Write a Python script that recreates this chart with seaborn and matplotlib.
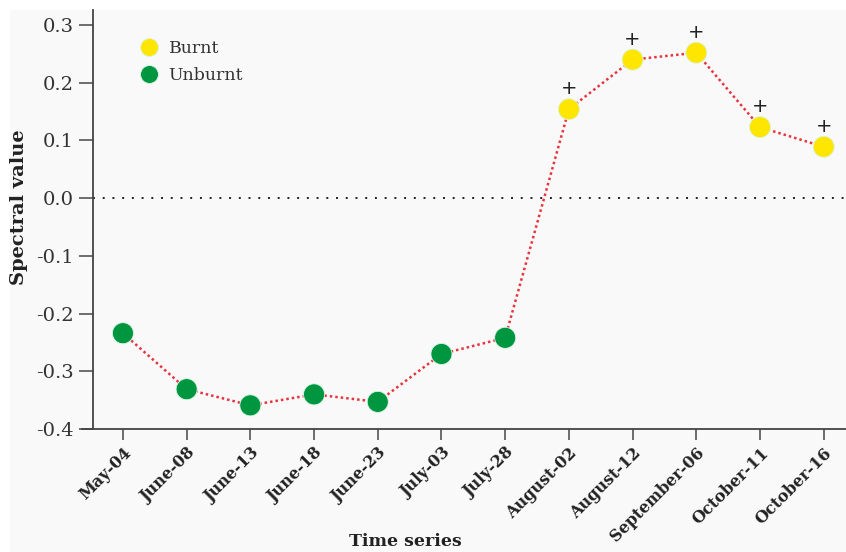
import matplotlib
matplotlib.use("Agg")
import matplotlib.pyplot as plt
from matplotlib.patches import Rectangle
import seaborn as sns
import pandas as pd

dates = ["May-04", "June-08", "June-13", "June-18", "June-23", "July-03",
         "July-28", "August-02", "August-12", "September-06", "October-11",
         "October-16"]
values = [-0.234, -0.331, -0.359, -0.340, -0.353, -0.270,
          -0.242, 0.154, 0.240, 0.252, 0.123, 0.089]
status = ["Unburnt"] * 7 + ["Burnt"] * 5
yticks = [-0.4, -0.3, -0.2, -0.1, 0.0, 0.1, 0.2, 0.3]

df = pd.DataFrame({"pos": range(len(dates)), "date": dates,
                   "value": values, "status": status})

sns.set_theme(style="ticks")
plt.rcParams["font.family"] = ["DejaVu Serif", "Liberation Serif"]

fig = plt.figure(figsize=(8.46, 5.52), dpi=100, facecolor="white")
fig.add_artist(Rectangle((10 / 846, 0), 1, 1 - 10 / 552,
                         transform=fig.transFigure, facecolor="#f9f9f9",
                         edgecolor="none", zorder=-10))
ax = fig.add_axes([93 / 846, 1 - 429 / 552, 1 - 93 / 846, (429 - 10) / 552])
ax.set_facecolor("none")

ax.axhline(0, color="#222222", linestyle=(0, (1, 4)), linewidth=1.4, zorder=1)

sns.lineplot(data=df, x="pos", y="value", ax=ax, color="#e8323c",
             linestyle=(0, (1, 1.2)), linewidth=1.8, zorder=2)
sns.scatterplot(data=df, x="pos", y="value", hue="status",
                hue_order=["Burnt", "Unburnt"],
                palette={"Burnt": "#ffe600", "Unburnt": "#009640"},
                s=230, edgecolor="#d8f5e8", linewidth=0.6, ax=ax, zorder=3)

for _, row in df[df["status"] == "Burnt"].iterrows():
    ax.annotate("+", (row["pos"], row["value"]), xytext=(0, 8),
                textcoords="offset points", ha="center", va="bottom",
                fontsize=14, color="#222222", family="DejaVu Sans")

ax.set_xlim(-0.47, 11.35)
ax.set_ylim(-0.4, 0.326)
ax.set_yticks(yticks)
ax.set_yticklabels([f"{v:.1f}" for v in yticks], fontsize=14, color="#333333")
ax.set_xticks(range(len(dates)))
ax.set_xticklabels(dates, rotation=45, ha="right", rotation_mode="anchor",
                   fontsize=11.5, fontweight="bold", color="#222222")

ax.tick_params(axis="both", direction="out", length=10, width=1.2,
               color="#555555", pad=4)
ax.tick_params(axis="x", length=8, pad=3)

for side in ("top", "right"):
    ax.spines[side].set_visible(False)
for side in ("left", "bottom"):
    ax.spines[side].set_color("#444444")
    ax.spines[side].set_linewidth(1.3)
ax.spines["bottom"].set_bounds(-0.65, 11.35)
ax.spines["bottom"].set_clip_on(False)

ax.set_xlabel("Time series", fontsize=12.5, fontweight="bold", color="#222222",
              va="center")
ax.xaxis.set_label_coords((405 - 93) / 753, -(541 - 429) / 419)
ax.set_ylabel("Spectral value", fontsize=14, fontweight="bold", color="#222222",
              va="center")
ax.yaxis.set_label_coords(-(93 - 19) / 753, (429 - 207) / 419)

leg = ax.legend(loc="upper left", bbox_to_anchor=(0.03, 0.965), frameon=False,
                fontsize=12.5, markerscale=0.85, handletextpad=0.15,
                labelspacing=0.55, title=None)
for t in leg.get_texts():
    t.set_color("#333333")

fig.savefig("out.png", dpi=100, facecolor=fig.get_facecolor())
